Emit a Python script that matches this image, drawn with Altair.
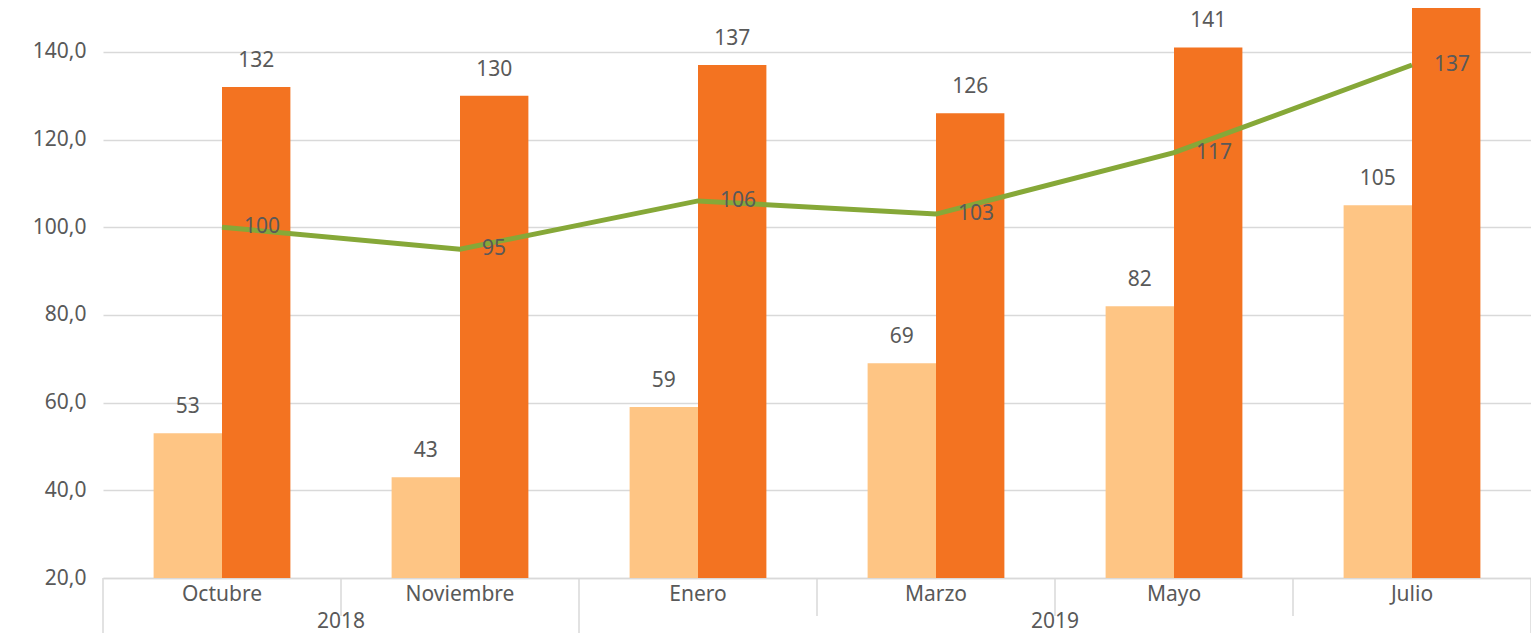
import altair as alt
import pandas as pd

months = ["Octubre", "Noviembre", "Enero", "Marzo", "Mayo", "Julio"]
light_vals = [53, 43, 59, 69, 82, 105]
dark_vals = [132, 130, 137, 126, 141, 155]
line_vals = [100, 95, 106, 103, 117, 137]
years = ["2018", "2019"]
year_anchor = ["Noviembre", "Mayo"]
short_seps = ["Noviembre", "Marzo", "Mayo", "Julio"]
long_seps = ["Octubre", "Enero"]
end_sep = ["Julio"]

FONT = "Noto Sans"
TXT = "#595959"
GRID = "#d9d9d9"

bars = pd.DataFrame({
    "month": months * 2,
    "series": ["A"] * len(months) + ["B"] * len(months),
    "value": light_vals + dark_vals,
})
line_df = pd.DataFrame({"month": months, "value": line_vals})
year_df = pd.DataFrame({"year": years, "anchor": year_anchor})
short_df = pd.DataFrame({"month": short_seps})
long_df = pd.DataFrame({"month": long_seps})
end_df = pd.DataFrame({"month": end_sep})

xscale = alt.Scale(domain=months, paddingInner=0, paddingOuter=0)
yscale = alt.Scale(domain=[20, 150], zero=False, nice=False)

x_enc = alt.X("month:N", scale=xscale, sort=months,
              axis=alt.Axis(title=None, labelAngle=0, labelFontSize=21, labelColor=TXT,
                            labelFont=FONT, domainColor=GRID, domainWidth=1.5, ticks=False,
                            labelPadding=5, grid=False))
y_enc = alt.Y("value:Q", scale=yscale,
              axis=alt.Axis(title=None, values=[20, 40, 60, 80, 100, 120, 140],
                            labelExpr="replace(format(datum.value, '.1f'), '.', ',')",
                            labelFontSize=21, labelColor=TXT, labelFont=FONT,
                            domain=False, ticks=False, labelPadding=17,
                            gridColor=GRID, gridWidth=1.5))
xoff = alt.XOffset("series:N", scale=alt.Scale(domain=["A", "B"], paddingInner=0, paddingOuter=0.74))

base_bars = alt.Chart(bars)
bar_layer = base_bars.mark_bar(clip=True).encode(
    x=x_enc, xOffset=xoff, y=y_enc,
    color=alt.Color("series:N", scale=alt.Scale(domain=["A", "B"], range=["#FEC584", "#F37321"]), legend=None),
)
bar_text = base_bars.transform_filter("datum.value <= 145").mark_text(
    baseline="middle", dy=-26, fontSize=21, font=FONT, color=TXT).encode(
    x=alt.X("month:N", scale=xscale, sort=months), xOffset=xoff,
    y=alt.Y("value:Q", scale=yscale), text=alt.Text("value:Q", format=".0f"),
)

line = alt.Chart(line_df).mark_line(color="#86A838", strokeWidth=5).encode(
    x=alt.X("month:N", scale=xscale, sort=months), y=alt.Y("value:Q", scale=yscale),
)
line_text = alt.Chart(line_df).mark_text(align="left", baseline="middle", dx=22, fontSize=21, font=FONT, color=TXT).encode(
    x=alt.X("month:N", scale=xscale, sort=months), y=alt.Y("value:Q", scale=yscale),
    text=alt.Text("value:Q", format=".0f"),
)

short_rules = alt.Chart(short_df).mark_rule(color=GRID, strokeWidth=1.5).encode(
    x=alt.X("month:N", scale=xscale, sort=months, bandPosition=0),
    y=alt.value(570), y2=alt.value(608),
)
long_rules = alt.Chart(long_df).mark_rule(color=GRID, strokeWidth=1.5).encode(
    x=alt.X("month:N", scale=xscale, sort=months, bandPosition=0),
    y=alt.value(570), y2=alt.value(640),
)
end_rule = alt.Chart(end_df).mark_rule(color=GRID, strokeWidth=1.5).encode(
    x=alt.X("month:N", scale=xscale, sort=months, bandPosition=1),
    y=alt.value(570), y2=alt.value(640),
)
year_text = alt.Chart(year_df).mark_text(baseline="middle", fontSize=21, font=FONT, color=TXT).encode(
    x=alt.X("anchor:N", scale=xscale, sort=months, bandPosition=0),
    y=alt.value(614), text="year:N",
)

chart = alt.layer(
    bar_layer, bar_text, line, line_text, short_rules, long_rules, end_rule, year_text
).properties(
    width=1428, height=570,
    autosize=alt.AutoSizeParams(type="none"),
    padding={"left": 95, "top": 0, "right": 0, "bottom": 55},
).configure_view(stroke=None)

chart.save("out.html", embed_options={"renderer": "svg", "actions": False})
